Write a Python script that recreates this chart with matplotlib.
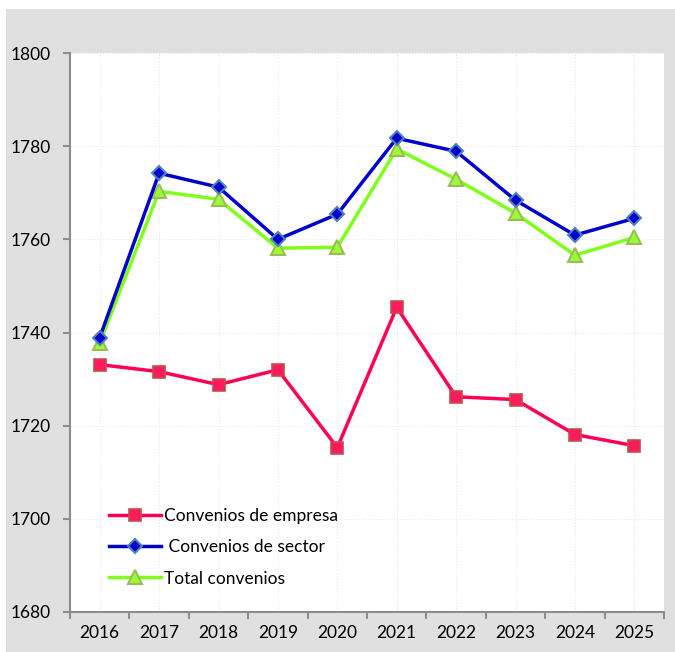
import matplotlib.pyplot as plt
from matplotlib.patches import Rectangle

# datos
years = ['2016', '2017', '2018', '2019', '2020', '2021', '2022', '2023', '2024', '2025']
empresa = [1733.1, 1731.6, 1728.8, 1732.0, 1715.3, 1745.4, 1726.2, 1725.6, 1718.1, 1715.7]
sector = [1738.9, 1774.2, 1771.2, 1760.0, 1765.4, 1781.7, 1778.9, 1768.4, 1760.9, 1764.5]
total = [1737.8, 1770.3, 1768.6, 1758.1, 1758.3, 1779.4, 1772.9, 1765.6, 1756.6, 1760.4]
y_ticks = [1680, 1700, 1720, 1740, 1760, 1780, 1800]

plt.rcParams['font.family'] = ['Lato', 'DejaVu Sans']

W, H = 675, 652
fig = plt.figure(figsize=(W / 100, H / 100), dpi=100, facecolor='white')
# fondo gris del area del grafico
fig.patches.append(Rectangle((6 / W, 0), 1, 1 - 9 / H, transform=fig.transFigure,
                             facecolor='#e0e0e0', edgecolor='none', zorder=-10))

ax = fig.add_axes([70 / W, 1 - 612 / H, (664 - 70) / W, (612 - 53) / H])
ax.set_zorder(5)
ax.set_facecolor('white')

x = list(range(len(years)))
ax.plot(x, empresa, color='#ff0055', lw=2.5, marker='s', ms=8.5,
        mfc='#ff1a5e', mec='#c0504d', mew=1.2, label='Convenios de empresa', zorder=3)
ax.plot(x, sector, color='#0000cc', lw=2.5, marker='D', ms=7.5,
        mfc='#0000cc', mec='#4f81bd', mew=1.5, label=' Convenios de sector', zorder=4)
ax.plot(x, total, color='#80ff1a', lw=2.5, marker='^', ms=10,
        mfc='#99ff33', mec='#9bbb59', mew=1.5, label='Total convenios', zorder=3)

ax.set_xlim(-0.5, len(years) - 0.5)
ax.set_ylim(1680, 1800)
ax.set_yticks(y_ticks)
ax.set_xticks(x)
ax.set_xticklabels(years)
ax.set_xticks([i - 0.5 for i in range(len(years) + 1)], minor=True)
ax.tick_params(axis='x', which='major', length=0, pad=9, labelsize=12.5)
ax.tick_params(axis='x', which='minor', length=5, width=1.5, color='#8c8c8c', direction='out')
ax.tick_params(axis='y', length=5, width=1.5, color='#8c8c8c', pad=9, labelsize=12.5)

ax.grid(True, color='#e8e8e8', ls=':', lw=0.8, zorder=0)
for s in ['top', 'right']:
    ax.spines[s].set_visible(False)
for s in ['left', 'bottom']:
    ax.spines[s].set_color('#8c8c8c')
    ax.spines[s].set_linewidth(1.5)

ax.legend(loc='upper left', bbox_to_anchor=(0.04, 0.214), frameon=False, fontsize=12.5,
          handlelength=2.95, handletextpad=0.2, labelspacing=0.88)

fig.savefig('out.png', dpi=100, facecolor=fig.get_facecolor())
